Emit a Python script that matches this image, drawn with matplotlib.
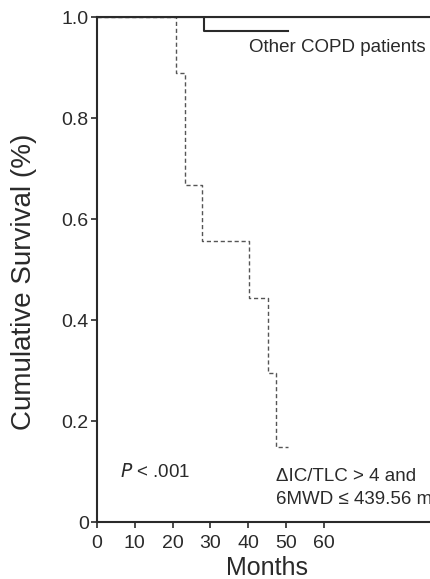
import matplotlib
matplotlib.use("Agg")
import matplotlib.pyplot as plt

plt.rcParams['font.family'] = ['Liberation Sans', 'DejaVu Sans']

# Other COPD patients (solid)
other_times = [0, 28.3, 50.5]
other_surv = [1.0, 0.972, 0.972]

# ΔIC/TLC > 4 and 6MWD ≤ 439.56 m (dashed)
risk_times = [0, 20.9, 23.2, 27.8, 40.2, 45.2, 47.4, 50.5]
risk_surv = [1.0, 0.889, 0.667, 0.556, 0.444, 0.296, 0.148, 0.148]

x_ticks = [0, 10, 20, 30, 40, 50, 60]
y_ticks = [0, 0.2, 0.4, 0.6, 0.8, 1.0]
y_tick_labels = ["0", "0.2", "0.4", "0.6", "0.8", "1.0"]

fig = plt.figure(figsize=(4.31, 5.79), dpi=100)
ax = fig.add_axes([0.225, 0.0984, 0.775, 0.8722])

col = '#2a2a2a'
ax.step(risk_times, risk_surv, where='post', color='#555555', lw=1.0,
        linestyle=(0, (3, 2)))
ax.step(other_times, other_surv, where='post', color=col, lw=1.5)
ax.axhline(1.0, color=col, lw=1.5)

ax.set_xlim(0, 88.3)
ax.set_ylim(0, 1.0)
ax.set_xticks(x_ticks)
ax.set_yticks(y_ticks)
ax.set_yticklabels(y_tick_labels)
ax.tick_params(axis='both', labelsize=14, colors=col, length=4, width=1.2)
ax.tick_params(axis='x', pad=5)
ax.tick_params(axis='y', pad=2)
for s in ['right']:
    ax.spines[s].set_visible(False)
for s in ['left', 'bottom', 'top']:
    ax.spines[s].set_color(col)
    ax.spines[s].set_linewidth(1.5)

ax.set_xlabel('Months', fontsize=18, color=col)
ax.set_ylabel('Cumulative Survival (%)', fontsize=20, color=col)
ax.xaxis.set_label_coords(0.509, -0.091)
ax.yaxis.set_label_coords(-0.219, 0.475)
ax.xaxis.label.set_va('center')
ax.yaxis.label.set_va('center')

ax.text(40.2, 0.94, 'Other COPD patients', fontsize=13.5, color=col, va='center', ha='left')
ax.text(6.1, 0.099, r'$P$ < .001', fontsize=13.5, color=col, va='center', ha='left',
        math_fontfamily='custom')
ax.text(47.2, 0.091, 'ΔIC/TLC > 4 and', fontsize=13.5, color=col, va='center', ha='left')
ax.text(47.2, 0.045, '6MWD ≤ 439.56 m', fontsize=13.5, color=col, va='center', ha='left')

fig.savefig('out.png', dpi=100)
